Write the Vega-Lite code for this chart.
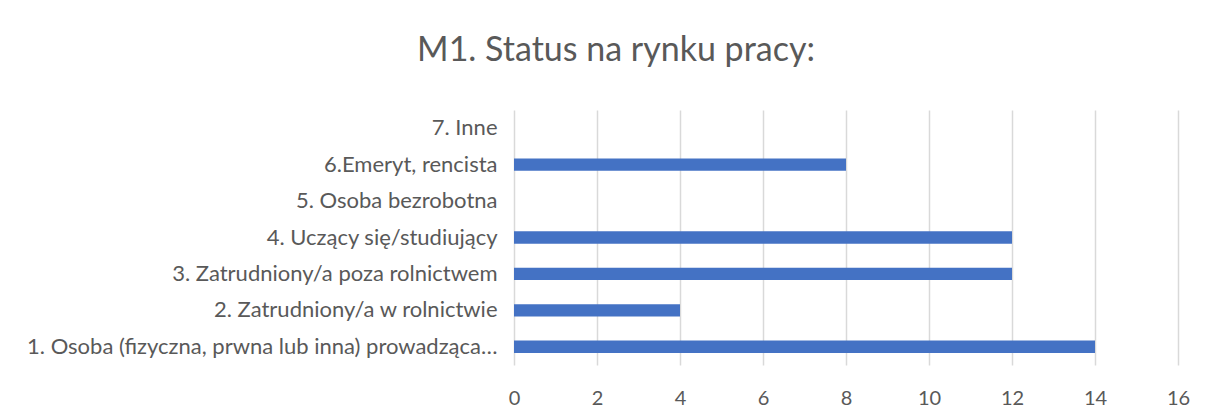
{
  "$schema": "https://vega.github.io/schema/vega-lite/v6.json",
  "width": 664,
  "height": 255,
  "autosize": "none",
  "padding": {"left": 514, "top": 110, "right": 30, "bottom": 53},
  "background": "white",
  "title": {
    "text": "M1. Status na rynku pracy:",
    "anchor": "middle",
    "frame": "group",
    "dx": -230,
    "offset": 15,
    "baseline": "alphabetic",
    "fontSize": 34,
    "font": "Lato",
    "fontWeight": "normal",
    "color": "#595959"
  },
  "data": {
    "values": [
      {"status": "7. Inne", "count": 0},
      {"status": "6.Emeryt, rencista", "count": 8},
      {"status": "5. Osoba bezrobotna", "count": 0},
      {"status": "4. Uczący się/studiujący", "count": 12},
      {"status": "3. Zatrudniony/a poza rolnictwem", "count": 12},
      {"status": "2. Zatrudniony/a w rolnictwie", "count": 4},
      {"status": "1. Osoba (fizyczna, prwna lub inna) prowadząca…", "count": 14}
    ]
  },
  "mark": {"type": "bar", "color": "#4472C4"},
  "encoding": {
    "y": {
      "field": "status",
      "type": "nominal",
      "sort": ["7. Inne", "6.Emeryt, rencista", "5. Osoba bezrobotna", "4. Uczący się/studiujący", "3. Zatrudniony/a poza rolnictwem", "2. Zatrudniony/a w rolnictwie", "1. Osoba (fizyczna, prwna lub inna) prowadząca…"],
      "scale": {"paddingInner": 0.66, "paddingOuter": 0.33},
      "axis": {
        "title": null,
        "domain": false,
        "ticks": false,
        "grid": false,
        "labelPadding": 17,
        "labelFontSize": 22,
        "labelFont": "Lato",
        "labelColor": "#595959",
        "labelLimit": 0
      }
    },
    "x": {
      "field": "count",
      "type": "quantitative",
      "scale": {"domain": [0, 16], "nice": false},
      "axis": {
        "title": null,
        "values": [0, 2, 4, 6, 8, 10, 12, 14, 16],
        "domain": false,
        "ticks": false,
        "grid": true,
        "gridColor": "#D9D9D9",
        "gridWidth": 1.5,
        "labelFlush": false,
        "labelPadding": 23,
        "labelFontSize": 20,
        "labelFont": "Lato",
        "labelColor": "#595959"
      }
    }
  },
  "config": {"view": {"stroke": null}}
}
